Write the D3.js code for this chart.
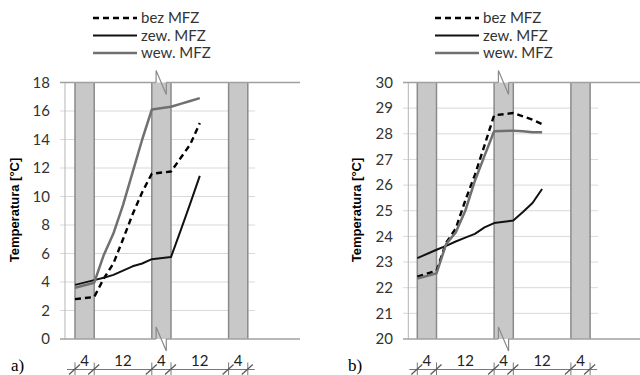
<!DOCTYPE html>
<html>
<head>
<meta charset="utf-8">
<script src="https://cdn.jsdelivr.net/npm/d3@7"></script>
<style>
body { margin: 0; background: #fff; }
svg { display: block; }
</style>
</head>
<body>
<svg id="chart" width="640" height="375"></svg>
<script>
// hours since start of the first shaded interval
const hours = [0, 4, 6, 8, 10, 12, 14, 16, 20, 22, 24, 26];

// panel a)
const bezA = [2.8, 2.95, 4.25, 5.3, 7.0, 8.75, 10.3, 11.6, 11.75, 12.7, 13.65, 15.15];
const zewA = [3.8, 4.13, 4.3, 4.5, 4.8, 5.1, 5.3, 5.6, 5.75, 7.6, 9.5, 11.45];
const wewA = [3.6, 3.95, 5.9, 7.4, 9.4, 11.7, 14.0, 16.1, 16.3, 16.5, 16.7, 16.9];

// panel b)
const bezB = [22.43, 22.66, 23.75, 24.3, 25.4, 26.4, 27.55, 28.72, 28.81, 28.68, 28.55, 28.38];
const zewB = [23.15, 23.48, 23.63, 23.8, 23.95, 24.1, 24.35, 24.52, 24.62, 24.95, 25.3, 25.85];
const wewB = [22.36, 22.56, 23.7, 24.15, 25.0, 26.17, 27.14, 28.1, 28.12, 28.1, 28.06, 28.06];

const seriesNames = ['bez MFZ', 'zew. MFZ', 'wew. MFZ'];
const bands = [[0, 4], [16, 20], [32, 36]];
const spanEdges = [0, 4, 16, 20, 32, 36];
const spanLabels = ['4', '12', '4', '12', '4'];
const ticksA = d3.range(0, 19, 2);
const ticksB = d3.range(20, 31, 1);

const styles = [
    { stroke: '#000', width: 2.4, dash: '6,4' },
    { stroke: '#111', width: 2, dash: null },
    { stroke: '#707070', width: 2.5, dash: null }
];

const svg = d3.select('#chart');
const plotTop = 82.5, plotBottom = 339;

const panels = [
    { x0: 75, axisX: 65, gridLeft: 60, gridRight: 255, frameRight: 300, domain: [0, 18], ticks: ticksA,
      data: [bezA, zewA, wewA], legendX: 93, titleX: 19, letter: 'a)', letterX: 11 },
    { x0: 417.3, axisX: 408.3, gridLeft: 403, gridRight: 598, frameRight: 640, domain: [20, 30], ticks: ticksB,
      data: [bezB, zewB, wewB], legendX: 435, titleX: 361, letter: 'b)', letterX: 348 }
];

panels.forEach(p => {
    const x = d3.scaleLinear().domain([0, 36]).range([p.x0, p.x0 + 4.8 * 36]);
    const y = d3.scaleLinear().domain(p.domain).range([plotBottom, plotTop]);
    const g = svg.append('g');

    // inner gridlines
    g.append('g').selectAll('line')
        .data(p.ticks.slice(1, -1))
        .join('line')
        .attr('x1', p.gridLeft).attr('x2', p.gridRight)
        .attr('y1', d => y(d)).attr('y2', d => y(d))
        .attr('stroke', '#d9d9d9').attr('stroke-width', 1);

    // shaded intervals
    const bg = g.append('g');
    bands.forEach(b => {
        bg.append('rect')
            .attr('x', x(b[0])).attr('y', plotTop)
            .attr('width', x(b[1]) - x(b[0])).attr('height', plotBottom - plotTop)
            .attr('fill', '#c8c8c8');
        b.forEach(t => {
            bg.append('line')
                .attr('x1', x(t)).attr('x2', x(t)).attr('y1', plotTop).attr('y2', plotBottom)
                .attr('stroke', '#8a8a8a').attr('stroke-width', 1.5);
        });
    });

    // vertical axis line
    g.append('line')
        .attr('x1', p.axisX).attr('x2', p.axisX).attr('y1', plotTop).attr('y2', plotBottom)
        .attr('stroke', '#b5b5b5').attr('stroke-width', 1);

    // top and bottom lines with the break marker
    const bx1 = x(16) + 4.3, bx2 = x(16) + 14.5;
    [plotTop, plotBottom].forEach(yy => {
        g.append('line').attr('x1', p.gridLeft).attr('x2', bx1).attr('y1', yy).attr('y2', yy)
            .attr('stroke', '#a0a0a0').attr('stroke-width', 1.3);
        g.append('line').attr('x1', bx2).attr('x2', p.frameRight).attr('y1', yy).attr('y2', yy)
            .attr('stroke', '#a0a0a0').attr('stroke-width', 1.3);
        g.append('path')
            .attr('d', `M${bx1},${yy} L${bx1},${yy - 12} L${bx2},${yy + 12} L${bx2},${yy}`)
            .attr('fill', 'none').attr('stroke', '#8a8a8a').attr('stroke-width', 1.2);
    });

    // y tick labels
    const axis = d3.axisLeft(y).tickValues(p.ticks).tickSize(0).tickPadding(0);
    const ax = g.append('g').attr('transform', `translate(${p.gridLeft - 10},0)`).call(axis);
    ax.select('.domain').remove();
    ax.selectAll('text')
        .attr('font-family', 'Lato, "Open Sans", sans-serif')
        .attr('font-size', 15).attr('fill', '#333');

    // axis title
    g.append('text')
        .attr('transform', `translate(${p.titleX},210) rotate(-90)`)
        .attr('text-anchor', 'middle')
        .attr('font-family', '"Liberation Sans", Arial, sans-serif')
        .attr('font-weight', 'bold').attr('font-size', 13).attr('fill', '#000')
        .text('Temperatura [°C]');

    // series
    const line = d3.line().x((d, i) => x(hours[i])).y(d => y(d));
    p.data.forEach((vals, k) => {
        g.append('path')
            .datum(vals)
            .attr('d', line)
            .attr('fill', 'none')
            .attr('stroke', styles[k].stroke)
            .attr('stroke-width', styles[k].width)
            .attr('stroke-dasharray', styles[k].dash)
            .attr('stroke-linejoin', 'round');
    });

    // legend
    seriesNames.forEach((name, k) => {
        const ly = 18 + k * 17.5;
        g.append('line')
            .attr('x1', p.legendX).attr('x2', p.legendX + 44).attr('y1', ly).attr('y2', ly)
            .attr('stroke', styles[k].stroke).attr('stroke-width', styles[k].width)
            .attr('stroke-dasharray', styles[k].dash);
        g.append('text')
            .attr('x', p.legendX + 48).attr('y', ly).attr('dy', '0.35em')
            .attr('font-family', 'Lato, "Open Sans", sans-serif')
            .attr('font-size', 15).attr('fill', '#333')
            .text(name);
    });

    // time spans below the chart
    const dimY = 369.5;
    g.append('line')
        .attr('x1', x(0) - 8).attr('x2', x(36) + 7).attr('y1', dimY).attr('y2', dimY)
        .attr('stroke', '#777').attr('stroke-width', 1);
    spanEdges.forEach(t => {
        g.append('line').attr('x1', x(t)).attr('x2', x(t)).attr('y1', dimY - 7).attr('y2', dimY + 7)
            .attr('stroke', '#777').attr('stroke-width', 1);
        g.append('line').attr('x1', x(t) - 6).attr('x2', x(t) + 5).attr('y1', dimY + 5).attr('y2', dimY - 5)
            .attr('stroke', '#555').attr('stroke-width', 1.2);
    });
    spanLabels.forEach((lab, i) => {
        g.append('text')
            .attr('x', x((spanEdges[i] + spanEdges[i + 1]) / 2)).attr('y', 366)
            .attr('text-anchor', 'middle')
            .attr('font-family', 'Lato, "Open Sans", sans-serif')
            .attr('font-size', 15).attr('fill', '#222')
            .text(lab);
    });

    g.append('text')
        .attr('x', p.letterX).attr('y', 371)
        .attr('font-family', '"Liberation Serif", serif')
        .attr('font-size', 17).attr('fill', '#000')
        .text(p.letter);
});
</script>
</body>
</html>
